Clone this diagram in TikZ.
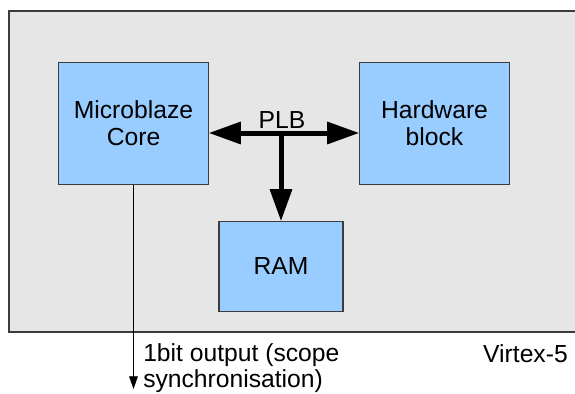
\documentclass[tikz,border=0pt]{standalone}
\usepackage{fontspec}
\setmainfont{Liberation Sans}
\usetikzlibrary{arrows.meta,positioning}
\definecolor{fpgaGray}{HTML}{E6E6E6}
\definecolor{blockBlue}{HTML}{99CCFF}
\definecolor{edgeGray}{HTML}{3C3C3C}
\newcommand{\pxUnit}{0.75pt}
\newcommand{\fpgaRight}{575}
\newcommand{\fpgaBottom}{332}
\tikzset{
  busTip/.tip={Triangle[length=24pt,width=16pt]},
  sigTip/.tip={Triangle[length=9.5pt,width=6.5pt]}
}

\begin{document}
\begin{tikzpicture}[x=\pxUnit, y=-\pxUnit,
  font=\fontsize{18.5}{20}\selectfont,
  block/.style={draw=edgeGray, fill=blockBlue, line width=0.9pt, align=center, inner sep=0pt},
  bus/.style={line width=3.75pt, arrows=busTip-busTip},
  busdrop/.style={line width=3.75pt, arrows=-busTip},
  signal/.style={line width=0.6pt, arrows=-sigTip}]
\useasboundingbox (0,0) rectangle (575,393);
% FPGA area
\fill[fpgaGray] (9,11) rectangle (\fpgaRight,\fpgaBottom);
\draw[edgeGray, line width=1pt] (\fpgaRight,11) -- (9,11) -- (9,\fpgaBottom) -- (\fpgaRight,\fpgaBottom);
\node (fpgaLabel) [anchor=base east, inner sep=0pt] at (568,362) {Virtex-5};

% blocks
\node (core) [block, minimum width=112pt, minimum height=92pt] at (133.5,123.5) {Microblaze\\Core};
\node (hw) [block, minimum width=112pt, minimum height=92pt] at (434.5,123.5) {Hardware\\block};
\node (ram) [block, minimum width=93pt, minimum height=67pt] at (281,266.5) {RAM};

% PLB bus
\coordinate (busTee) at (281,133);
\draw[bus] (core.east |- busTee) -- (hw.west |- busTee);
\draw[busdrop] (busTee) -- (ram.north);
\node (plbLabel) [inner sep=0pt] at (282,120.5) {PLB};

% sync output
\coordinate (syncOut) at (133.5,389);
\draw[signal] (core.south) -- (syncOut);
\node (syncLabel) [anchor=north west, align=left, inner sep=0pt] at (143,343) {1bit output (scope\\synchronisation)};
\end{tikzpicture}
\end{document}
